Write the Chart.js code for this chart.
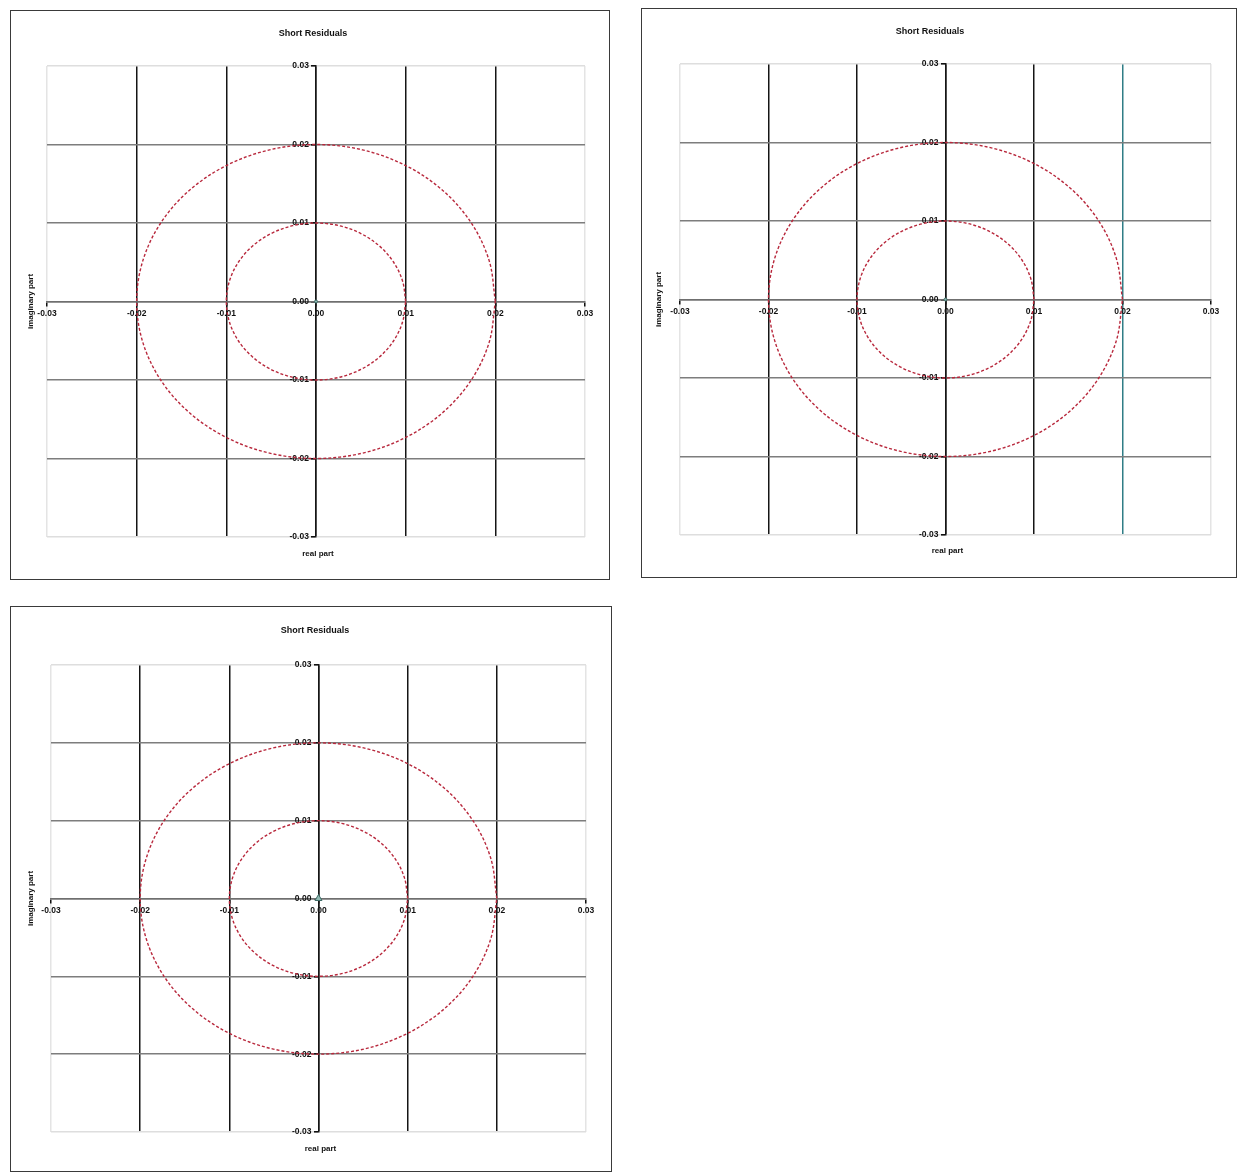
<!DOCTYPE html>
<html>
<head>
<meta charset="utf-8">
<title>Short Residuals</title>
<script src="https://cdn.jsdelivr.net/npm/chart.js@4.4.1/dist/chart.umd.min.js"></script>
<style>
  body { margin: 0; background: #fff; width: 1239px; height: 1175px; position: relative; overflow: hidden; }
  .box { position: absolute; border: 1px solid #3a3a3a; box-sizing: border-box; background: #fff; }
  .box canvas { display: block; }
</style>
</head>
<body>
<div class="box" id="box1" style="left:10px;top:10px;width:600px;height:570px;"><canvas id="c1"></canvas></div>
<div class="box" id="box2" style="left:641px;top:8px;width:596px;height:570px;"><canvas id="c2"></canvas></div>
<div class="box" id="box3" style="left:10px;top:606px;width:602px;height:566px;"><canvas id="c3"></canvas></div>
<script>
// 圖表數據
const chartTitle = 'Short Residuals';
const xTitle = 'real part';
const yTitle = 'imaginary part';
const axisTicks = [-0.03, -0.02, -0.01, 0.00, 0.01, 0.02, 0.03];

// 外圈 (半徑 0.02)
const outerX = [0.02, 0.019319, 0.017321, 0.014142, 0.01, 0.005176, 0, -0.005176, -0.01, -0.014142, -0.017321, -0.019319,
  -0.02, -0.019319, -0.017321, -0.014142, -0.01, -0.005176, 0, 0.005176, 0.01, 0.014142, 0.017321, 0.019319, 0.02];
const outerY = [0, 0.005176, 0.01, 0.014142, 0.017321, 0.019319, 0.02, 0.019319, 0.017321, 0.014142, 0.01, 0.005176,
  0, -0.005176, -0.01, -0.014142, -0.017321, -0.019319, -0.02, -0.019319, -0.017321, -0.014142, -0.01, -0.005176, 0];

// 內圈 (半徑 0.01)
const innerX = [0.01, 0.009659, 0.00866, 0.007071, 0.005, 0.002588, 0, -0.002588, -0.005, -0.007071, -0.00866, -0.009659,
  -0.01, -0.009659, -0.00866, -0.007071, -0.005, -0.002588, 0, 0.002588, 0.005, 0.007071, 0.00866, 0.009659, 0.01];
const innerY = [0, 0.002588, 0.005, 0.007071, 0.00866, 0.009659, 0.01, 0.009659, 0.00866, 0.007071, 0.005, 0.002588,
  0, -0.002588, -0.005, -0.007071, -0.00866, -0.009659, -0.01, -0.009659, -0.00866, -0.007071, -0.005, -0.002588, 0];

// 殘差點
const residualX = [0.0];
const residualY = [0.0];

const toPoints = (xs, ys) => xs.map((x, i) => ({ x: x, y: ys[i] }));

function fmt(v) {
  if (Math.abs(v) < 1e-9) return '0.00';
  return v.toFixed(2);
}

// 文字標籤插件
function labelPlugin(cfg) {
  return {
    id: 'labels',
    afterDraw(chart) {
      const ctx = chart.ctx;
      const x0 = chart.scales.x.getPixelForValue(0);
      const y0 = chart.scales.y.getPixelForValue(0);
      ctx.save();
      ctx.fillStyle = '#111';
      ctx.textAlign = 'center';
      ctx.textBaseline = 'middle';
      ctx.font = 'bold 9px "Liberation Sans", Arial, sans-serif';
      ctx.fillText(chartTitle, cfg.titleX, cfg.titleY);
      ctx.font = 'bold 8px "Liberation Sans", Arial, sans-serif';
      ctx.fillText(xTitle, x0 + 2, cfg.xTitleY);
      ctx.translate(cfg.yTitleX, y0);
      ctx.rotate(-Math.PI / 2);
      ctx.fillText(yTitle, 0, 0);
      ctx.restore();
    }
  };
}

function createChart(id, w, h, pad, cfg) {
  const canvas = document.getElementById(id);
  canvas.width = w;
  canvas.height = h;
  canvas.style.width = w + 'px';
  canvas.style.height = h + 'px';

  const circleStyle = {
    showLine: true,
    borderColor: '#b8283c',
    borderWidth: 1.4,
    borderDash: [3, 2],
    pointRadius: 0,
    tension: 0.34,
    fill: false
  };

  return new Chart(canvas.getContext('2d'), {
    type: 'scatter',
    data: {
      datasets: [
        Object.assign({ label: 'outer', data: toPoints(outerX, outerY) }, circleStyle),
        Object.assign({ label: 'inner', data: toPoints(innerX, innerY) }, circleStyle),
        {
          label: 'residuals',
          data: toPoints(residualX, residualY),
          pointStyle: cfg.marker,
          pointRadius: cfg.markerSize,
          backgroundColor: '#8fb8b0',
          borderColor: '#3d6b66',
          borderWidth: 1
        }
      ]
    },
    options: {
      responsive: false,
      animation: false,
      layout: { padding: pad },
      plugins: {
        legend: { display: false },
        tooltip: { enabled: false }
      },
      scales: {
        x: {
          type: 'linear',
          min: -0.03,
          max: 0.03,
          position: { y: 0 },
          afterBuildTicks: (scale) => { scale.ticks = axisTicks.map(v => ({ value: v })); },
          ticks: {
            callback: (v) => fmt(v),
            color: '#111',
            padding: 3,
            maxRotation: 0,
            font: { size: 8.5, weight: 'bold', family: '"Liberation Sans", Arial, sans-serif' }
          },
          grid: {
            color: (c) => {
              const v = c.tick ? c.tick.value : 0;
              if (Math.abs(Math.abs(v) - 0.03) < 1e-6) return '#e4e4e4';
              if (cfg.tealX !== undefined && Math.abs(v - cfg.tealX) < 1e-6) return '#2f7d86';
              return '#151515';
            },
            lineWidth: 1.5,
            drawTicks: true,
            tickLength: 4,
            tickColor: '#111'
          },
          border: { display: true, color: '#6f6f6f', width: 1.5 }
        },
        y: {
          type: 'linear',
          min: -0.03,
          max: 0.03,
          position: { x: 0 },
          afterBuildTicks: (scale) => { scale.ticks = axisTicks.map(v => ({ value: v })); },
          ticks: {
            // 尾端空格讓標籤停在軸線左側
            callback: (v) => fmt(v) + '   ',
            color: '#111',
            padding: 2,
            font: { size: 8.5, weight: 'bold', family: '"Liberation Sans", Arial, sans-serif' }
          },
          grid: {
            color: (c) => {
              const v = c.tick ? c.tick.value : 0;
              if (Math.abs(Math.abs(v) - 0.03) < 1e-6) return '#dedede';
              return '#7d7d7d';
            },
            lineWidth: 1.6,
            drawTicks: true,
            tickLength: 4,
            tickColor: '#111'
          },
          border: { display: true, color: '#151515', width: 1.5 }
        }
      }
    },
    plugins: [labelPlugin(cfg)]
  });
}

createChart('c1', 598, 568, { left: 36, right: 24, top: 55, bottom: 42 },
  { titleX: 302, titleY: 23, xTitleY: 543, yTitleX: 20, marker: 'circle', markerSize: 1.5 });
createChart('c2', 594, 568, { left: 38, right: 25, top: 55, bottom: 42 },
  { titleX: 288, titleY: 23, xTitleY: 542, yTitleX: 17, marker: 'circle', markerSize: 1.5, tealX: 0.02 });
createChart('c3', 600, 564, { left: 40, right: 25, top: 58, bottom: 39 },
  { titleX: 304, titleY: 24, xTitleY: 542, yTitleX: 20, marker: 'triangle', markerSize: 4 });
</script>
</body>
</html>
